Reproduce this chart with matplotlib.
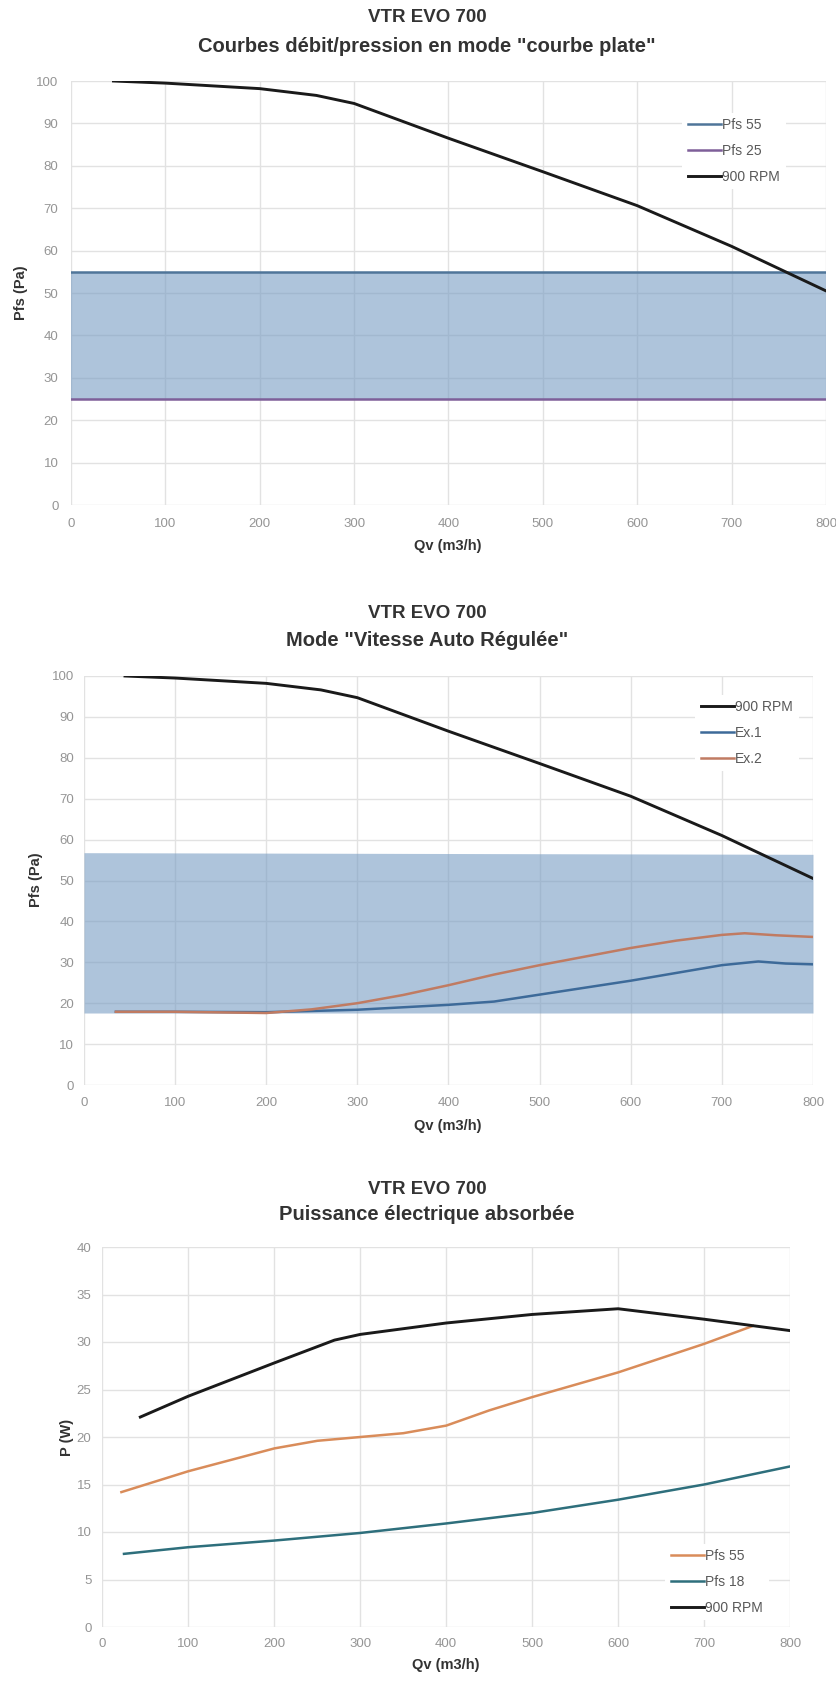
import matplotlib
matplotlib.use('Agg')
import matplotlib.pyplot as plt

plt.rcParams['font.family'] = ['Liberation Sans', 'DejaVu Sans']

# --- data ---
qv_ticks = [0, 100, 200, 300, 400, 500, 600, 700, 800]

# 900 RPM fan curve (charts 1 and 2)
rpm_q = [45, 100, 200, 260, 300, 400, 500, 600, 700, 800]
rpm_pfs = [100, 99.5, 98.2, 96.6, 94.7, 86.5, 78.6, 70.6, 61.0, 50.5]

# chart 1: flat curve band
flat_q = [0, 800]
pfs55 = [55, 55]
pfs25 = [25, 25]

# chart 2: auto regulated speed
band_q = [0, 800]
band_low = [17.6, 17.6]
band_high = [56.8, 56.4]
ex1_q = [35, 100, 200, 300, 400, 450, 500, 550, 600, 650, 700, 740, 770, 800]
ex1 = [17.9, 17.9, 17.8, 18.4, 19.6, 20.4, 22.1, 23.8, 25.5, 27.4, 29.3, 30.2, 29.7, 29.5]
ex2_q = [35, 100, 200, 250, 300, 350, 400, 450, 500, 550, 600, 650, 700, 725, 760, 800]
ex2 = [17.9, 17.9, 17.6, 18.5, 20.0, 22.0, 24.4, 27.0, 29.3, 31.4, 33.5, 35.3, 36.7, 37.1, 36.6, 36.2]

# chart 3: electrical power
p_rpm_q = [44, 100, 200, 270, 300, 400, 500, 600, 700, 800]
p_rpm = [22.1, 24.3, 27.8, 30.2, 30.8, 32.0, 32.9, 33.5, 32.4, 31.2]
p55_q = [22, 100, 200, 250, 300, 350, 400, 450, 500, 600, 700, 757]
p55 = [14.2, 16.4, 18.8, 19.6, 20.0, 20.4, 21.2, 22.8, 24.2, 26.8, 29.8, 31.7]
p18_q = [25, 100, 200, 300, 400, 500, 600, 700, 800]
p18 = [7.7, 8.4, 9.1, 9.9, 10.9, 12.0, 13.4, 15.0, 16.9]

W, H = 837, 1684
fig = plt.figure(figsize=(W / 100, H / 100), dpi=100)

GRID = '#e2e2e2'
TICK = '#959595'
DARK = '#333333'
BAND = '#789dc3'


def px_axes(x0, y0, x1, y1):
    return fig.add_axes([x0 / W, 1 - y1 / H, (x1 - x0) / W, (y1 - y0) / H])


def style(ax, ymax, ystep, xpad, ypad):
    ax.set_xlim(0, 800)
    ax.set_ylim(0, ymax)
    ax.set_xticks(qv_ticks)
    ax.set_yticks(range(0, ymax + 1, ystep))
    ax.grid(True, color=GRID, linewidth=1.0)
    ax.set_axisbelow(True)
    for s in ax.spines.values():
        s.set_visible(False)
    ax.tick_params(axis='x', length=0, pad=xpad, labelsize=9.5, labelcolor=TICK)
    ax.tick_params(axis='y', length=0, pad=ypad, labelsize=9.5, labelcolor=TICK)


def titles(y1, y2, sub):
    fig.text(0.51, 1 - y1 / H, 'VTR EVO 700', ha='center', va='center',
             fontsize=13.5, fontweight='bold', color=DARK)
    fig.text(0.51, 1 - y2 / H, sub, ha='center', va='center',
             fontsize=14.5, fontweight='bold', color=DARK)


def labels(xx, xy, yx, yy, ylab):
    fig.text(xx / W, 1 - xy / H, 'Qv (m3/h)', ha='center', va='center',
             fontsize=10.5, fontweight='bold', color=DARK)
    fig.text(yx / W, 1 - yy / H, ylab, ha='center', va='center', rotation=90,
             fontsize=10.5, fontweight='bold', color=DARK)


def legend(ax, x, y):
    ax.legend(loc='center left', bbox_to_anchor=(x / W, 1 - y / H),
              bbox_transform=fig.transFigure, borderaxespad=0, frameon=True,
              facecolor='white', edgecolor='none', framealpha=1,
              fontsize=10, handlelength=2.4, handletextpad=0.1,
              labelspacing=0.85, borderpad=0.4, labelcolor='#595959')


# --- chart 1 ---
ax1 = px_axes(71, 81, 826, 505)
style(ax1, 100, 10, 9.5, 9)
ax1.fill_between(flat_q, pfs25, pfs55, color=BAND, alpha=0.6, linewidth=0, zorder=1)
ax1.plot(flat_q, pfs55, color='#4f7599', lw=1.8, label='Pfs 55', zorder=3)
ax1.plot(flat_q, pfs25, color='#7e5f99', lw=1.8, label='Pfs 25', zorder=3)
ax1.plot(rpm_q, rpm_pfs, color='#1a1a1a', lw=2.1, label='900 RPM', zorder=4)
titles(18, 46, 'Courbes débit/pression en mode "courbe plate"')
labels(448, 546, 21, 293, 'Pfs (Pa)')
legend(ax1, 682, 151)

# --- chart 2 ---
ax2 = px_axes(84, 676, 813, 1085)
style(ax2, 100, 10, 8.5, 7)
ax2.fill_between(band_q, band_low, band_high, color=BAND, alpha=0.6, linewidth=0, zorder=1)
ax2.plot(rpm_q, rpm_pfs, color='#1a1a1a', lw=2.1, label='900 RPM', zorder=4)
ax2.plot(ex1_q, ex1, color='#3d6a99', lw=1.8, label='Ex.1', zorder=3)
ax2.plot(ex2_q, ex2, color='#c07b62', lw=1.8, label='Ex.2', zorder=3)
titles(613, 640, 'Mode "Vitesse Auto Régulée"')
labels(448, 1126, 36, 880, 'Pfs (Pa)')
legend(ax2, 695, 733)

# --- chart 3 ---
ax3 = px_axes(102.5, 1247, 790, 1627)
style(ax3, 40, 5, 8, 8)
ax3.plot(p55_q, p55, color='#d98c5a', lw=1.8, label='Pfs 55', zorder=3)
ax3.plot(p18_q, p18, color='#2e6f7c', lw=1.8, label='Pfs 18', zorder=3)
ax3.plot(p_rpm_q, p_rpm, color='#1a1a1a', lw=2.1, label='900 RPM', zorder=4)
titles(1190, 1214, 'Puissance électrique absorbée')
labels(446, 1665, 67, 1437, 'P (W)')
legend(ax3, 665, 1582)

fig.savefig('out.png', dpi=100, facecolor='white')
